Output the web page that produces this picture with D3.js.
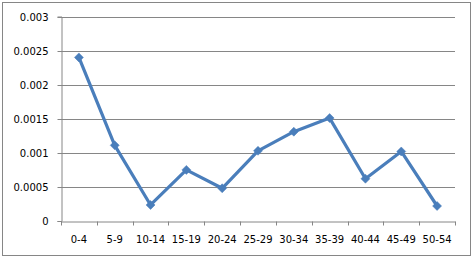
<!DOCTYPE html>
<html>
<head>
<meta charset="utf-8">
<script src="https://cdn.jsdelivr.net/npm/d3@7"></script>
<style>
  html, body { margin: 0; padding: 0; background: #fff; }
  svg { display: block; }
  text { font-family: "DejaVu Sans", Verdana, sans-serif; font-size: 10px; fill: #000; }
</style>
</head>
<body>
<svg id="chart" width="473" height="258"></svg>
<script>
const categories = ["0-4","5-9","10-14","15-19","20-24","25-29","30-34","35-39","40-44","45-49","50-54"];
const values = [0.0024, 0.00111, 0.000235, 0.00075, 0.00048, 0.00103, 0.00131, 0.00151, 0.00062, 0.00102, 0.00022];
const yTickValues = [0, 0.0005, 0.001, 0.0015, 0.002, 0.0025, 0.003];
const yTickLabels = ["0", "0.0005", "0.001", "0.0015", "0.002", "0.0025", "0.003"];

const svg = d3.select("#chart");
const plot = { left: 61, right: 455, top: 16.5, bottom: 221 };
const gridColor = "#868686";
const lineColor = "#4A7EBB";

// outer border
svg.append("rect")
  .attr("x", 2.5).attr("y", 2.5).attr("width", 468).attr("height", 253)
  .attr("fill", "#fff").attr("stroke", gridColor).attr("stroke-width", 1);

const x = d3.scaleBand().domain(categories).range([plot.left, plot.right]).padding(0);
const y = d3.scaleLinear().domain([0, 0.003]).range([plot.bottom, plot.top]);

// gridlines
svg.append("g").selectAll("line").data(yTickValues.slice(1)).join("line")
  .attr("x1", plot.left).attr("x2", plot.right)
  .attr("y1", d => Math.round(y(d)) + 0.5).attr("y2", d => Math.round(y(d)) + 0.5)
  .attr("stroke", gridColor).attr("stroke-width", 1);

// y axis
const yAxis = svg.append("g")
  .attr("transform", `translate(${plot.left + 0.5},0)`)
  .call(d3.axisLeft(y).tickValues(yTickValues).tickSize(4).tickPadding(9)
    .tickFormat((d, i) => yTickLabels[i]));
yAxis.select(".domain").attr("stroke", gridColor);
yAxis.selectAll(".tick line").attr("stroke", gridColor);
yAxis.selectAll(".tick").attr("transform", d => `translate(0,${Math.round(y(d)) + 0.5})`);
yAxis.selectAll("text").style("font-family", "'DejaVu Sans', Verdana, sans-serif").style("font-size", "10px").attr("fill", "#000");

// x axis
const xAxis = svg.append("g")
  .attr("transform", `translate(0,${Math.round(plot.bottom) + 0.5})`)
  .call(d3.axisBottom(x).tickSize(0).tickPadding(14));
xAxis.select(".domain").attr("stroke", gridColor);
xAxis.selectAll("text").style("font-family", "'DejaVu Sans', Verdana, sans-serif").style("font-size", "10px").attr("fill", "#000");
// tick marks at category boundaries
const boundaries = categories.map(c => x(c)).concat([x(categories[categories.length - 1]) + x.bandwidth()]);
xAxis.append("g").selectAll("line").data(boundaries).join("line")
  .attr("x1", d => Math.round(d) + 0.5).attr("x2", d => Math.round(d) + 0.5)
  .attr("y1", 0).attr("y2", 4)
  .attr("stroke", gridColor);

// line
const pts = categories.map((c, i) => [x(c) + x.bandwidth() / 2, y(values[i])]);
svg.append("path")
  .attr("d", d3.line()(pts))
  .attr("fill", "none").attr("stroke", lineColor).attr("stroke-width", 3.2)
  .attr("stroke-linejoin", "round").attr("stroke-linecap", "round");

// diamond markers
svg.append("g").selectAll("path").data(pts).join("path")
  .attr("transform", d => `translate(${d[0]},${d[1]})`)
  .attr("d", "M0,-4.5L4.5,0L0,4.5L-4.5,0Z")
  .attr("fill", lineColor).attr("stroke", lineColor).attr("stroke-width", 0.5);
</script>
</body>
</html>
